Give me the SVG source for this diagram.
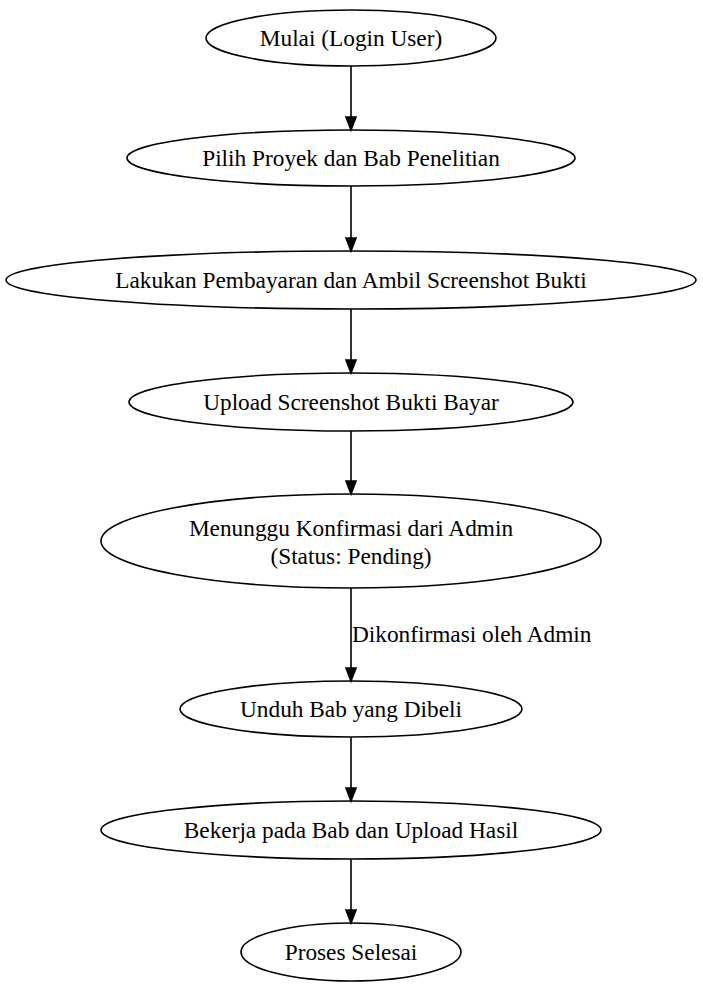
<svg xmlns="http://www.w3.org/2000/svg" width="703" height="990" viewBox="0 0 703 990">
<style>
.n ellipse{fill:none;stroke:#000;stroke-width:1.6}
text{font-family:"Liberation Serif","Times New Roman",serif;font-size:23.3px;fill:#000;text-anchor:middle}
.e line{stroke:#000;stroke-width:1.6}
.e polygon{fill:#000;stroke:#000;stroke-width:1.6}
.lbl{text-anchor:start}
</style>
<rect width="703" height="990" fill="#fff"/>
<g class="e" id="edges">
<line x1="351" y1="66" x2="351" y2="117"/><polygon points="346,117 356,117 351,130"/>
<line x1="351" y1="186" x2="351" y2="238"/><polygon points="346,238 356,238 351,251"/>
<line x1="351" y1="309" x2="351" y2="360"/><polygon points="346,360 356,360 351,373"/>
<line x1="351" y1="431" x2="351" y2="481"/><polygon points="346,481 356,481 351,494"/>
<line x1="351" y1="588" x2="351" y2="668"/><polygon points="346,668 356,668 351,681"/>
<text class="lbl" x="352" y="642">Dikonfirmasi oleh Admin</text>
<line x1="351" y1="737" x2="351" y2="788"/><polygon points="346,788 356,788 351,801"/>
<line x1="351" y1="859" x2="351" y2="910"/><polygon points="346,910 356,910 351,923"/>
</g>
<g class="n" id="n1"><ellipse cx="351" cy="38" rx="145" ry="28"/><text x="351" y="46">Mulai (Login User)</text></g>
<g class="n" id="n2"><ellipse cx="351" cy="158" rx="224" ry="28"/><text x="351" y="166">Pilih Proyek dan Bab Penelitian</text></g>
<g class="n" id="n3"><ellipse cx="351" cy="280" rx="345" ry="29"/><text x="351" y="288">Lakukan Pembayaran dan Ambil Screenshot Bukti</text></g>
<g class="n" id="n4"><ellipse cx="351" cy="402" rx="222" ry="29"/><text x="351" y="410">Upload Screenshot Bukti Bayar</text></g>
<g class="n" id="n5"><ellipse cx="351" cy="541" rx="250" ry="47"/><text x="351" y="536">Menunggu Konfirmasi dari Admin</text><text x="351" y="564">(Status: Pending)</text></g>
<g class="n" id="n6"><ellipse cx="351" cy="709" rx="171" ry="28"/><text x="351" y="717">Unduh Bab yang Dibeli</text></g>
<g class="n" id="n7"><ellipse cx="351" cy="830" rx="250" ry="29"/><text x="351" y="838">Bekerja pada Bab dan Upload Hasil</text></g>
<g class="n" id="n8"><ellipse cx="351" cy="952" rx="110" ry="29"/><text x="351" y="960">Proses Selesai</text></g>
</svg>
